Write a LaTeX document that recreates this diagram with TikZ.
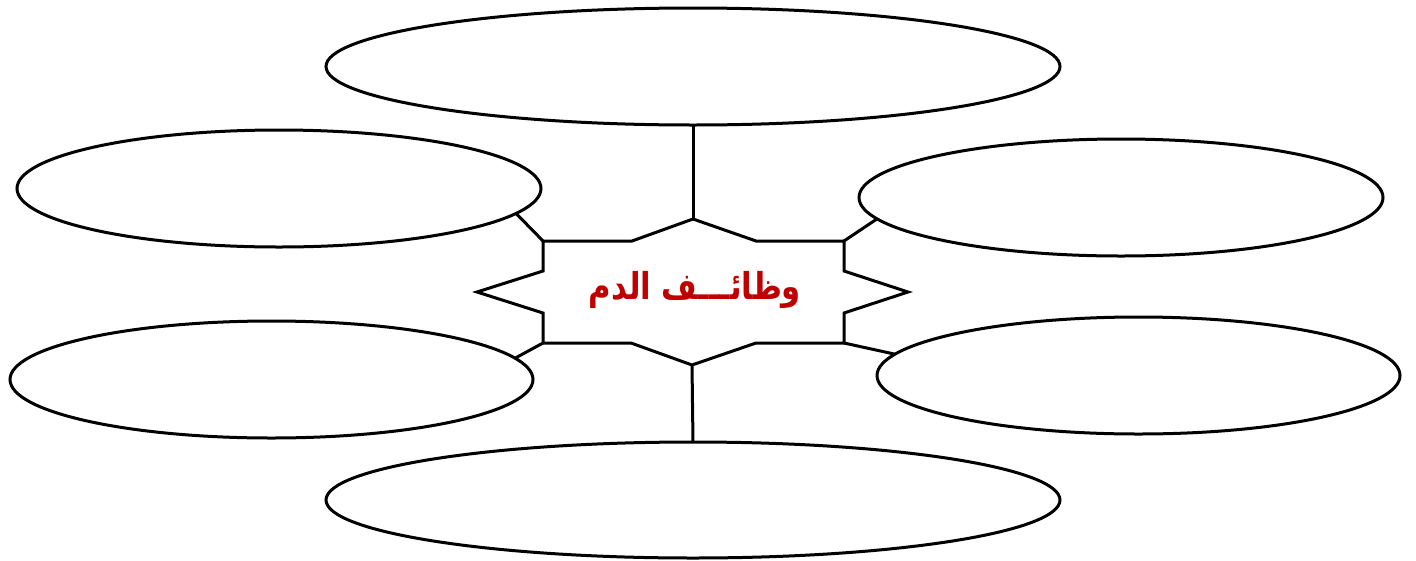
\documentclass[tikz,border=0pt]{standalone}
\usepackage{fontspec}
\usetikzlibrary{shapes.geometric}
\TeXXeTstate=1
\newfontfamily\arabicfont[Script=Arabic]{DejaVu Sans}
\definecolor{titlered}{RGB}{192,0,0}
\tikzset{
  bubble/.style={draw=black, line width=3pt, ellipse, inner sep=0pt, outer sep=0pt, fill=white},
  link/.style={draw=black, line width=3pt},
  starline/.style={draw=black, line width=3pt, line join=miter},
  title/.style={text=titlered, font=\arabicfont\bfseries\fontsize{37}{44}\selectfont, inner sep=0pt, xscale=0.83}
}
\begin{document}
\begin{tikzpicture}[x=1pt,y=-1pt]
\useasboundingbox (0,0) rectangle (1416,560);
% ellipses
\node[bubble, minimum width=734pt, minimum height=117pt] (top) at (693,66.5) {};
\node[bubble, minimum width=524pt, minimum height=117pt] (ul) at (279,188.5) {};
\node[bubble, minimum width=524pt, minimum height=117pt] (ur) at (1121,197.5) {};
\node[bubble, minimum width=523pt, minimum height=117pt] (ll) at (271.5,379.5) {};
\node[bubble, minimum width=523pt, minimum height=117pt] (lr) at (1138.5,375.5) {};
\node[bubble, minimum width=734pt, minimum height=116pt] (bot) at (693,500) {};
% star corners
\coordinate (pt) at (693,219);
\coordinate (pb) at (692,365);
\coordinate (ctl) at (543,241);
\coordinate (ctr) at (844,241);
\coordinate (cbl) at (543,343);
\coordinate (cbr) at (844,343);
\draw[starline] (pt) -- (756,241) -- (ctr) -- (844,271) -- (908,292) -- (844,313) -- (cbr)
  -- (756,343) -- (pb) -- (631,343) -- (cbl) -- (543,313) -- (477,292) -- (543,271) -- (ctl)
  -- (632,241) -- cycle;
\node[title] (label) at (695,290) {\beginR وظائـــف الدم\endR};
% connectors
\draw[link] (pt) -- (top.south);
\draw[link] (pb) -- (bot.north);
\draw[link] (ctl) -- (ul.-6.2);
\draw[link] (ctr) -- (ur.185.8);
\draw[link] (cbl) -- (ll.5.3);
\draw[link] (cbr) -- (lr.175.8);
\end{tikzpicture}
\end{document}
